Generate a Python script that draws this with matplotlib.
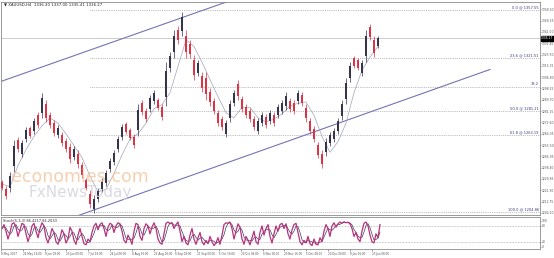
import numpy as np
import pandas as pd
import matplotlib
matplotlib.use("Agg")
import matplotlib.pyplot as plt
import matplotlib.transforms as mtransforms

opens = [1227.5, 1222.5, 1223.0, 1240.0, 1259.2, 1249.0, 1260.0, 1268.1, 1266.2, 1278.0,
         1279.7, 1286.2, 1278.0, 1272.0, 1262.8, 1263.2, 1258.7, 1254.0, 1246.3, 1249.0,
         1240.2, 1228.7, 1218.8, 1206.8, 1214.5, 1222.1, 1226.9, 1237.2, 1242.7, 1252.6,
         1261.7, 1271.1, 1266.5, 1261.7, 1267.1, 1287.2, 1281.4, 1283.0, 1288.6, 1289.2,
         1284.1, 1291.6, 1313.7, 1325.5, 1342.7, 1341.5, 1338.2, 1332.2, 1319.7, 1310.1,
         1307.7, 1306.5, 1295.9, 1288.6, 1279.5, 1275.3, 1264.1, 1276.2, 1287.4, 1301.6,
         1290.1, 1284.4, 1281.4, 1275.3, 1266.2, 1272.0, 1276.8, 1273.5, 1278.3, 1278.0,
         1281.0, 1284.7, 1288.9, 1287.4, 1288.6, 1293.5, 1283.8, 1273.5, 1267.5, 1255.4,
         1249.0, 1249.9, 1256.8, 1259.9, 1266.2, 1277.4, 1290.4, 1306.1, 1321.0, 1319.5,
         1310.1, 1323.0, 1344.6, 1334.7, 1330.6]
highs = [1229.0, 1224.5, 1235.1, 1259.3, 1261.5, 1259.3, 1269.1, 1269.9, 1275.9, 1280.4,
         1294.8, 1289.5, 1280.4, 1274.4, 1270.6, 1265.3, 1260.8, 1257.0, 1254.7, 1251.7,
         1242.6, 1230.5, 1221.5, 1217.7, 1223.0, 1230.5, 1236.6, 1245.7, 1251.7, 1262.3,
         1271.4, 1272.9, 1268.3, 1263.8, 1286.5, 1289.5, 1283.5, 1293.3, 1297.1, 1291.0,
         1286.5, 1318.2, 1325.8, 1342.4, 1345.4, 1356.0, 1342.4, 1334.9, 1323.5, 1319.8,
         1310.7, 1310.7, 1298.6, 1291.0, 1281.9, 1277.4, 1274.4, 1289.5, 1297.1, 1304.6,
         1292.5, 1286.5, 1283.5, 1277.4, 1275.9, 1280.4, 1278.9, 1281.9, 1280.4, 1286.5,
         1289.5, 1295.6, 1291.0, 1289.5, 1297.1, 1295.6, 1286.5, 1275.9, 1269.9, 1257.8,
         1251.7, 1260.8, 1265.3, 1268.3, 1275.9, 1289.5, 1306.1, 1318.2, 1322.8, 1321.3,
         1319.8, 1342.4, 1347.0, 1337.9, 1337.9]
lows = [1221.5, 1214.7, 1220.0, 1235.1, 1250.2, 1246.4, 1257.8, 1260.8, 1263.8, 1268.3,
        1275.9, 1272.9, 1268.3, 1262.3, 1260.8, 1254.7, 1250.2, 1241.9, 1244.2, 1238.1,
        1230.5, 1221.5, 1207.9, 1204.1, 1212.4, 1220.0, 1224.5, 1235.1, 1240.4, 1250.2,
        1259.3, 1263.8, 1259.3, 1253.2, 1262.3, 1278.2, 1272.9, 1280.4, 1286.5, 1281.9,
        1274.4, 1285.0, 1310.7, 1321.3, 1331.8, 1337.9, 1321.3, 1321.3, 1304.6, 1307.7,
        1295.6, 1289.5, 1285.0, 1278.9, 1269.9, 1266.8, 1261.5, 1272.9, 1285.0, 1289.5,
        1280.4, 1275.9, 1272.9, 1266.8, 1263.8, 1269.9, 1268.3, 1271.4, 1269.9, 1275.9,
        1278.9, 1281.9, 1280.4, 1278.9, 1286.5, 1285.0, 1272.9, 1263.8, 1257.8, 1245.7,
        1238.1, 1247.2, 1254.7, 1257.8, 1263.8, 1274.4, 1286.5, 1303.1, 1313.7, 1312.2,
        1307.7, 1318.2, 1334.9, 1322.0, 1328.8]
closes = [1223.0, 1216.7, 1232.0, 1254.5, 1252.5, 1256.7, 1266.9, 1262.6, 1273.5, 1270.7,
          1291.0, 1276.2, 1270.7, 1264.7, 1268.6, 1256.8, 1252.3, 1244.9, 1252.6, 1240.8,
          1232.9, 1223.3, 1210.6, 1215.0, 1220.9, 1228.4, 1234.2, 1243.6, 1249.4, 1259.9,
          1269.0, 1265.6, 1261.1, 1255.3, 1281.7, 1280.5, 1275.0, 1290.7, 1295.0, 1283.7,
          1276.8, 1311.6, 1322.8, 1338.2, 1334.5, 1352.4, 1325.5, 1324.0, 1308.4, 1317.4,
          1298.6, 1293.7, 1287.7, 1281.3, 1272.3, 1268.9, 1271.8, 1286.2, 1294.7, 1292.5,
          1282.8, 1278.0, 1275.0, 1268.9, 1273.5, 1278.3, 1270.4, 1279.8, 1272.0, 1284.4,
          1287.4, 1292.9, 1282.5, 1281.0, 1295.0, 1287.1, 1275.6, 1266.2, 1260.2, 1248.1,
          1240.8, 1258.1, 1263.2, 1266.2, 1273.5, 1286.5, 1302.2, 1315.2, 1315.5, 1314.0,
          1317.4, 1337.6, 1337.3, 1325.2, 1336.27]

# moving average, one value every 2nd candle
ma_vals = [1226, 1224, 1240, 1252, 1262, 1270, 1276, 1272, 1264, 1255,
           1246, 1232, 1220, 1222, 1234, 1248, 1260, 1264, 1272, 1283,
           1286, 1295, 1315, 1335, 1330, 1318, 1305, 1292, 1280, 1276,
           1284, 1284, 1276, 1273, 1275, 1279, 1285, 1287, 1288, 1278,
           1262, 1250, 1258, 1272, 1295, 1312, 1322, 1330]

# stochastic %K, two values per candle
stoch_k = [70, 85, 60, 30, 55, 88, 92, 75, 40, 65, 90, 85, 50, 20, 45, 80, 90, 60, 35, 70,
           92, 80, 35, 15, 40, 70, 55, 20, 10, 35, 65, 50, 15, 30, 75, 60, 25, 10, 45, 70,
           40, 12, 8, 30, 20, 55, 80, 90, 65, 85, 92, 70, 40, 75, 90, 85, 55, 80, 92, 88,
           60, 25, 15, 45, 30, 10, 60, 90, 85, 40, 25, 70, 88, 80, 50, 75, 92, 70, 30, 15,
           10, 50, 90, 95, 88, 92, 70, 85, 95, 60, 20, 40, 15, 8, 45, 70, 30, 10, 35, 55,
           20, 8, 25, 12, 40, 20, 5, 15, 35, 10, 45, 85, 92, 90, 95, 70, 30, 60, 88, 75,
           30, 10, 40, 25, 8, 35, 60, 20, 10, 55, 80, 45, 70, 85, 40, 15, 50, 80, 60, 85,
           90, 70, 88, 50, 30, 65, 85, 90, 55, 20, 8, 25, 15, 40, 12, 5, 30, 10, 8, 35,
           20, 60, 85, 70, 40, 80, 92, 75, 88, 95, 90, 96, 92, 94, 88, 70, 40, 55, 30, 20,
           60, 90, 95, 80, 45, 20, 15, 50, 35, 85]

fib_names = ["0.0", "23.6", "38.2", "50.0", "61.8", "100.0"]
fib_prices = [1357.55, 1321.51, 1299.22, 1281.21, 1263.19, 1204.86]
fib_start = 22  # candle of the July low

current_price = 1336.27

# channel trend lines: (candle, price) anchors
upper_x = [-0.5, 57.5]
upper_y = [1303.3, 1365.1]
lower_x = [14.5, 122.0]
lower_y = [1197.3, 1312.6]

date_labels = ["8 May 2017", "24 May 16:00", "8 Jun 08:00", "23 Jun 00:00", "7 Jul 16:00",
               "24 Jul 08:00", "8 Aug 00:00", "22 Aug 16:00", "6 Sep 08:00", "21 Sep 00:00",
               "5 Oct 16:00", "20 Oct 08:00", "6 Nov 00:00", "20 Nov 16:00", "5 Dec 08:00",
               "20 Dec 00:00", "8 Jan 16:00", "23 Jan 08:00"]
price_ticks = [1358.10, 1349.55, 1341.00, 1332.45, 1323.90, 1315.35, 1306.80, 1298.25,
               1289.70, 1281.15, 1272.60, 1264.05, 1255.50, 1246.95, 1238.40, 1229.85,
               1221.30, 1212.75, 1204.20]

W, H = 554, 258
fig = plt.figure(figsize=(W / 100, H / 100), dpi=100)
ax = fig.add_axes([1 / W, 1 - 215 / H, 539 / W, 213 / H])
ax2 = fig.add_axes([1 / W, 1 - 249 / H, 539 / W, 32 / H])

x = np.arange(len(closes))
o = np.array(opens)
c = np.array(closes)
up = c >= o
col = np.where(up, "#34344e", "#dc3444")

# fibonacci levels
for name, p in zip(fib_names, fib_prices):
    ax.plot([fib_start, 134.5], [p, p], color="#a8a8a8", lw=0.6, ls=(0, (1, 1.2)), zorder=1)
    lab = name if name == "38.2" else f"{name} @ {p:.2f}"
    ax.text(134.2, p + 0.6, lab, fontsize=2.6, color="#3a3a8a", ha="right", va="bottom", zorder=3)

ax.axhline(current_price, color="#c4c4c4", lw=0.6, zorder=1)

ax.plot(upper_x, upper_y, color="#7474b4", lw=0.8, zorder=2)
ax.plot(lower_x, lower_y, color="#7474b4", lw=0.8, zorder=2)

ax.plot(np.arange(0, len(closes), 2), ma_vals, color="#a0a6b6", lw=0.5, zorder=2)

ax.vlines(x, lows, highs, colors=col, lw=0.5, zorder=4)
ax.bar(x, c - o, bottom=o, width=0.4, color=col, lw=0, zorder=4)

ax.set_xlim(-0.25, 134.5)
ax.set_ylim(1202.6, 1363.6)
ax.yaxis.tick_right()
ax.set_yticks(price_ticks)
ax.set_yticklabels([f"{t:.2f}" for t in price_ticks])
ax.tick_params(axis="y", labelsize=2.2, colors="#555555", length=1, width=0.4, pad=0.5)
ax.set_xticks([])

# current price tag
tr = mtransforms.blended_transform_factory(ax.transAxes, ax.transData)
ax.text(1.002, current_price, f"{current_price:.2f}", transform=tr, fontsize=2.2, color="white",
        va="center", ha="left", bbox=dict(boxstyle="square,pad=0.15", fc="black", ec="black"),
        zorder=6, clip_on=False)

# stochastic
k = pd.Series(stoch_k, dtype=float)
d = k.rolling(3, min_periods=1).mean()
xs = np.arange(len(stoch_k)) * 0.5
ax2.axhline(80, color="#a0a0a0", lw=0.5, ls=(0, (1, 1.2)))
ax2.axhline(20, color="#a0a0a0", lw=0.5, ls=(0, (1, 1.2)))
ax2.plot(xs, d, color="#3c3c66", lw=0.5)
ax2.plot(xs, k, color="#b8327a", lw=0.9)
ax2.set_xlim(-0.25, 134.5)
ax2.set_ylim(-8, 114)
ax2.yaxis.tick_right()
ax2.set_yticks([0, 20, 80, 100])
ax2.tick_params(axis="y", labelsize=2.2, colors="#555555", length=1, width=0.4, pad=0.5)
tick_pos = np.arange(len(date_labels)) * 5.45 - 0.25
ax2.set_xticks(tick_pos)
ax2.set_xticklabels(date_labels, ha="left")
ax2.tick_params(axis="x", labelsize=2.0, colors="#555555", length=1.5, width=0.4, pad=1)
ax2.text(0.004, 0.95, "Stoch(5,3,3) 86.4217 84.2033", transform=ax2.transAxes,
         fontsize=2.6, va="top", color="#333333")

for a in (ax, ax2):
    for s in a.spines.values():
        s.set_color("#8a8a8a")
        s.set_linewidth(0.6)

fig.text(4 / W, 1 - 4 / H, "\u25bc XAUUSD,H4  1336.20 1337.00 1335.41 1336.27",
         fontsize=2.8, va="center", color="#222222")

# watermark
fig.text(80 / W, 1 - 177 / H, "economies.com", fontsize=12.5, color="#f4c9a4",
         ha="center", va="center", alpha=0.85)
fig.text(80 / W, 1 - 193 / H, "FxNewsToday", fontsize=11, color="#d4d4dc",
         ha="center", va="center", alpha=0.85)

fig.savefig("out.png", dpi=100)
